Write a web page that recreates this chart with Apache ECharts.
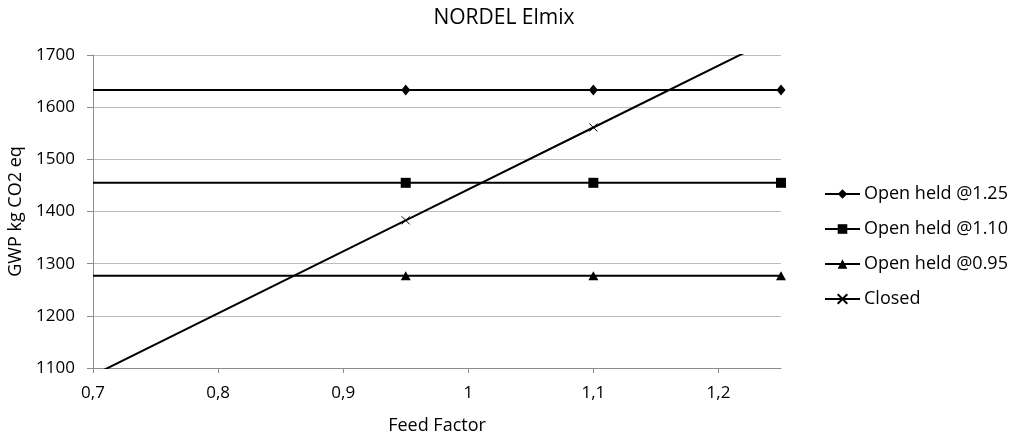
<!DOCTYPE html>
<html>
<head>
<meta charset="utf-8">
<script src="https://cdn.jsdelivr.net/npm/echarts@6/dist/echarts.min.js"></script>
<style>
  html, body { margin: 0; padding: 0; background: #fff; }
  #chart { width: 1020px; height: 438px; }
</style>
</head>
<body>
<div id="chart"></div>
<script>
// Feed factor values on the x axis (first point only anchors the line at the axis)
const feedFactor = [0.7, 0.95, 1.1, 1.25];
// GWP, kg CO2 eq
const openHeld125 = [1633, 1633, 1633, 1633];
const openHeld110 = [1455, 1455, 1455, 1455];
const openHeld095 = [1277, 1277, 1277, 1277];
const closed = [1086, 1383, 1561, 1739];
// Feed factors that carry a marker
const markerFactors = [0.95, 1.1, 1.25];
const xTickValues = [0.7, 0.8, 0.9, 1.0, 1.1, 1.2];

const FONT = '"Open Sans"';

function pairs(values) {
  return feedFactor.map((f, i) => ({
    value: [f, values[i]],
    symbol: markerFactors.includes(f) ? undefined : 'none'
  }));
}

const crossPath = 'path://M0,0L10,10M10,0L0,10';

function lineSeries(name, values, symbol, size, extraItem) {
  return {
    name: name,
    type: 'line',
    data: pairs(values),
    symbol: symbol,
    symbolSize: size,
    showAllSymbol: true,
    clip: true,
    lineStyle: { color: '#000', width: 2 },
    itemStyle: Object.assign({ color: '#000' }, extraItem || {}),
    emphasis: { disabled: true },
    animation: false
  };
}

const chart = echarts.init(document.getElementById('chart'), null, { renderer: 'canvas' });
chart.setOption({
  backgroundColor: '#fff',
  animation: false,
  title: {
    text: 'NORDEL Elmix',
    left: 499,
    textAlign: 'center',
    top: 3,
    textStyle: { fontFamily: FONT, fontSize: 21, fontWeight: 'normal', color: '#000' }
  },
  grid: { left: 93, right: 239, top: 55, bottom: 70, containLabel: false, outerBoundsMode: 'none' },
  legend: {
    orient: 'vertical',
    left: 824,
    top: 184,
    padding: 0,
    itemWidth: 35,
    itemHeight: 12,
    itemGap: 15,
    textStyle: { fontFamily: FONT, fontSize: 18, color: '#000', lineHeight: 20, padding: [0, 0, 0, -1] },
    data: ['Open held @1.25', 'Open held @1.10', 'Open held @0.95', 'Closed']
  },
  xAxis: {
    type: 'value',
    min: 0.7,
    max: 1.25,
    interval: 0.1,
    name: 'Feed Factor',
    nameLocation: 'middle',
    nameGap: 49,
    nameTextStyle: { fontFamily: FONT, fontSize: 18, color: '#000' },
    axisLine: { show: true, lineStyle: { color: '#8c8c8c', width: 1 } },
    axisTick: { show: true, length: 5, customValues: xTickValues, lineStyle: { color: '#8c8c8c' } },
    axisLabel: {
      customValues: xTickValues,
      margin: 17,
      fontFamily: FONT, fontSize: 17, color: '#000',
      formatter: v => String(+(+v).toFixed(2)).replace('.', ',')
    },
    splitLine: { show: false }
  },
  yAxis: {
    type: 'value',
    min: 1100,
    max: 1700,
    interval: 100,
    name: 'GWP kg CO2 eq',
    nameLocation: 'middle',
    nameGap: 68,
    nameRotate: 90,
    nameTextStyle: { fontFamily: FONT, fontSize: 18, color: '#000' },
    axisLine: { show: true, lineStyle: { color: '#8c8c8c', width: 1 } },
    axisTick: { show: true, length: 6, lineStyle: { color: '#8c8c8c' } },
    axisLabel: {
      margin: 18, fontFamily: FONT, fontSize: 17, color: '#000',
      formatter: v => String(v)
    },
    splitLine: { show: true, lineStyle: { color: '#bdbdbd', width: 1 } }
  },
  series: [
    lineSeries('Open held @1.25', openHeld125, 'diamond', [9, 11]),
    lineSeries('Open held @1.10', openHeld110, 'rect', 10),
    lineSeries('Open held @0.95', openHeld095, 'triangle', [10, 9]),
    lineSeries('Closed', closed, crossPath, 8, { borderColor: '#000', borderWidth: 1, color: 'none' })
  ]
});
</script>
</body>
</html>
